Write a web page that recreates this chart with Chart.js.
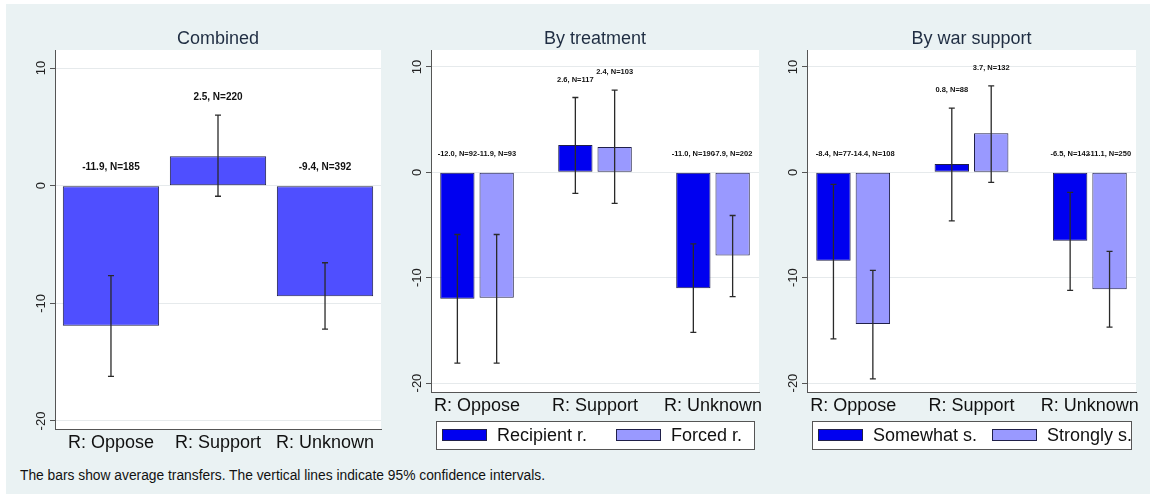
<!DOCTYPE html>
<html lang="en">
<head>
  <meta charset="UTF-8" />
  <title>Average transfers by respondent view</title>
  <script src="https://cdn.jsdelivr.net/npm/chart.js"></script>
  <style>
    body { margin: 0; background: #fff; font-family: "Liberation Sans", Arial, sans-serif; }
    #frame { position: absolute; left: 6px; top: 4px; width: 1144px; height: 490px; background: #eaf2f3; }
    canvas { position: absolute; top: 4px; }
    #note { position: absolute; left: 20px; top: 468px; font-size: 13.8px; color: #111; white-space: nowrap; }
  </style>
</head>
<body>
  <div id="frame"></div>
  <canvas id="c1" width="380" height="460" style="left:6px"></canvas>
  <canvas id="c2" width="380" height="460" style="left:386px"></canvas>
  <canvas id="c3" width="380" height="460" style="left:766px"></canvas>
  <div id="note">The bars show average transfers. The vertical lines indicate 95% confidence intervals.</div>

  <script>
    const categories = ['R: Oppose', 'R: Support', 'R: Unknown'];
    const tickVals = [-20, -10, 0, 10];

    // Combined
    const combinedMean = [-11.9, 2.5, -9.4];
    const combinedN = [185, 220, 392];
    const combinedLo = [-16.2, -0.9, -12.2];
    const combinedHi = [-7.65, 6.0, -6.55];

    // By treatment
    const recipientMean = [-12.0, 2.6, -11.0];
    const recipientN = [92, 117, 190];
    const recipientLo = [-18.1, -2.0, -15.2];
    const recipientHi = [-5.9, 7.1, -6.8];
    const forcedMean = [-11.9, 2.4, -7.9];
    const forcedN = [93, 103, 202];
    const forcedLo = [-18.1, -2.95, -11.8];
    const forcedHi = [-5.9, 7.8, -4.1];

    // By war support
    const somewhatMean = [-8.4, 0.8, -6.5];
    const somewhatN = [77, 88, 142];
    const somewhatLo = [-15.8, -4.6, -11.2];
    const somewhatHi = [-1.15, 6.1, -1.9];
    const stronglyMean = [-14.4, 3.7, -11.1];
    const stronglyN = [108, 132, 250];
    const stronglyLo = [-19.6, -0.95, -14.7];
    const stronglyHi = [-9.3, 8.2, -7.5];

    const FONT = '"Liberation Sans", Arial, sans-serif';
    const EDGE = '#20204a';

    function series(label, mean, n, lo, hi, color) {
      return {
        label: label,
        data: mean.map((v, i) => ({ x: i, y: v })),
        nObs: n, ciLo: lo, ciHi: hi,
        backgroundColor: color,
        borderColor: EDGE,
        borderWidth: 1,
        borderSkipped: false
      };
    }

    // title, y tick labels, error bars, value labels, legend
    const decor = {
      id: 'decor',
      afterDraw(chart) {
        const ctx = chart.ctx;
        const area = chart.chartArea;
        const ys = chart.scales.y;
        const o = chart.options.plugins.decor;
        ctx.save();

        ctx.fillStyle = '#1f2d42';
        ctx.font = '18px ' + FONT;
        ctx.textAlign = 'center';
        ctx.textBaseline = 'middle';
        ctx.fillText(o.title, (area.left + area.right) / 2, area.top - 11);

        ctx.fillStyle = '#222';
        ctx.font = '13px ' + FONT;
        ys.ticks.forEach(t => {
          ctx.save();
          ctx.translate(area.left - 14, ys.getPixelForValue(t.value));
          ctx.rotate(-Math.PI / 2);
          ctx.fillText(String(t.value), 0, 0);
          ctx.restore();
        });

        chart.data.datasets.forEach((ds, di) => {
          const meta = chart.getDatasetMeta(di);
          meta.data.forEach((bar, i) => {
            const top = ys.getPixelForValue(ds.ciHi[i]);
            const bot = ys.getPixelForValue(ds.ciLo[i]);
            ctx.strokeStyle = '#2a2a2a';
            ctx.lineWidth = 1.3;
            ctx.beginPath();
            ctx.moveTo(bar.x, top); ctx.lineTo(bar.x, bot);
            ctx.moveTo(bar.x - 3, top); ctx.lineTo(bar.x + 3, top);
            ctx.moveTo(bar.x - 3, bot); ctx.lineTo(bar.x + 3, bot);
            ctx.stroke();

            ctx.fillStyle = '#111';
            ctx.font = 'bold ' + o.labelSize + 'px ' + FONT;
            const ly = ys.getPixelForValue(Math.max(0, ds.ciHi[i])) - 18;
            ctx.fillText(ds.data[i].y.toFixed(1) + ', N=' + ds.nObs[i], bar.x, ly);
          });
        });

        if (o.legend) {
          const bx = area.left + 5, by = area.bottom + 29;
          const bw = area.right - area.left - 10, bh = 28;
          ctx.fillStyle = '#fff';
          ctx.fillRect(bx, by, bw, bh);
          ctx.strokeStyle = '#555';
          ctx.lineWidth = 1;
          ctx.strokeRect(bx + 0.5, by + 0.5, bw, bh);
          const starts = [bx + 6, bx + 180];
          ctx.font = '18px ' + FONT;
          ctx.textAlign = 'left';
          chart.data.datasets.forEach((ds, di) => {
            const sx = starts[di], sy = by + 8;
            ctx.fillStyle = ds.backgroundColor;
            ctx.fillRect(sx, sy, 45, 12);
            ctx.strokeStyle = EDGE;
            ctx.strokeRect(sx + 0.5, sy + 0.5, 44, 11);
            ctx.fillStyle = '#111';
            ctx.fillText(ds.label, sx + 55, by + 15);
          });
        }
        ctx.restore();
      },
      beforeDraw(chart) {
        const a = chart.chartArea;
        chart.ctx.save();
        chart.ctx.fillStyle = '#fff';
        chart.ctx.fillRect(a.left, a.top, a.right - a.left, a.bottom - a.top);
        chart.ctx.restore();
      }
    };

    function makePanel(id, title, datasets, cfg) {
      new Chart(document.getElementById(id), {
        type: 'bar',
        data: { datasets: datasets },
        plugins: [decor],
        options: {
          responsive: false,
          animation: false,
          devicePixelRatio: 1,
          layout: { padding: { top: 46, left: 0, right: cfg.right, bottom: cfg.bottom } },
          categoryPercentage: cfg.catPct,
          barPercentage: cfg.barPct,
          plugins: {
            legend: { display: false },
            tooltip: { enabled: false },
            decor: { title: title, labelSize: cfg.labelSize, legend: cfg.legend }
          },
          scales: {
            x: {
              type: 'linear',
              offset: false,
              min: cfg.xmin, max: cfg.xmax,
              afterBuildTicks: s => { s.ticks = categories.map((c, i) => ({ value: i })); },
              afterFit: s => { s.height = cfg.xh; },
              grid: { display: false, drawTicks: false, offset: false },
              border: { display: true, color: '#555', width: 1 },
              ticks: {
                padding: 3,
                color: '#111',
                font: { family: FONT, size: 18 },
                maxRotation: 0,
                autoSkip: false,
                callback: v => categories[v]
              }
            },
            y: {
              min: cfg.ymin, max: cfg.ymax,
              afterBuildTicks: s => { s.ticks = tickVals.map(v => ({ value: v })); },
              afterFit: s => { s.width = cfg.yw; },
              grid: { color: '#e6eaec', tickLength: 5, tickColor: '#555' },
              border: { display: true, color: '#555', width: 1 },
              ticks: { display: false }
            }
          }
        }
      });
    }

    makePanel('c1', 'Combined',
      [series('Combined', combinedMean, combinedN, combinedLo, combinedHi, '#4f4fff')],
      { right: 5, bottom: 5, xh: 30, yw: 49, xmin: -0.523, xmax: 2.523, ymin: -20.68, ymax: 11.53,
        catPct: 0.9, barPct: 1.0, labelSize: 10, legend: false });

    makePanel('c2', 'By treatment',
      [series('Recipient r.', recipientMean, recipientN, recipientLo, recipientHi, '#0000f0'),
       series('Forced r.', forcedMean, forcedN, forcedLo, forcedHi, '#9999ff')],
      { right: 7, bottom: 44, xh: 28, yw: 45, xmin: -0.39, xmax: 2.39, ymin: -20.85, ymax: 11.61,
        catPct: 0.666, barPct: 0.873, labelSize: 7.5, legend: true });

    makePanel('c3', 'By war support',
      [series('Somewhat s.', somewhatMean, somewhatN, somewhatLo, somewhatHi, '#0000f0'),
       series('Strongly s.', stronglyMean, stronglyN, stronglyLo, stronglyHi, '#9999ff')],
      { right: 10, bottom: 44, xh: 28, yw: 41, xmin: -0.39, xmax: 2.39, ymin: -20.85, ymax: 11.61,
        catPct: 0.666, barPct: 0.873, labelSize: 7.5, legend: true });
  </script>
</body>
</html>
